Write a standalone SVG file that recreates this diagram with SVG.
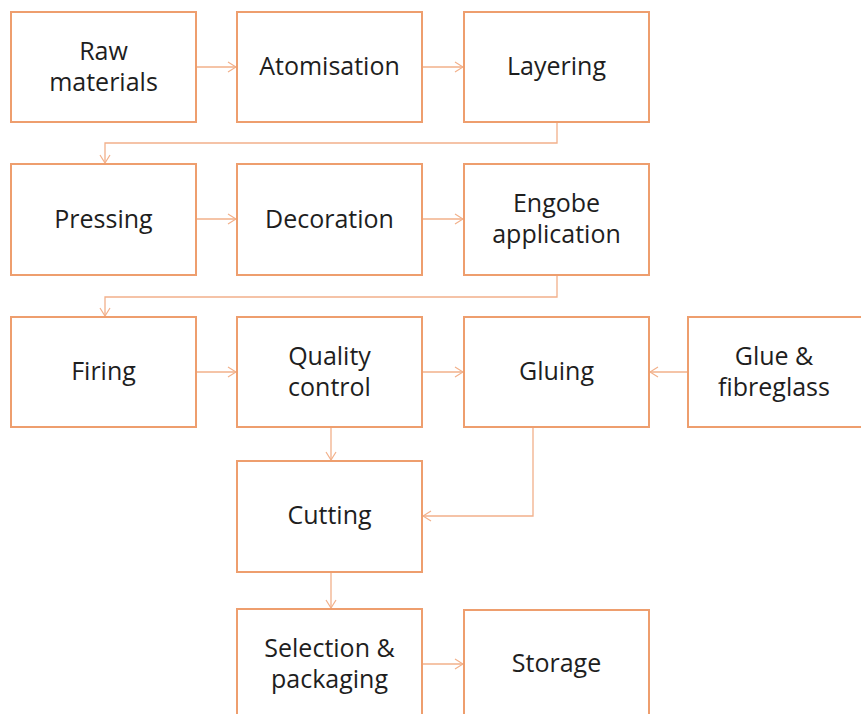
<svg xmlns="http://www.w3.org/2000/svg" width="861" height="714" viewBox="0 0 861 714">
<defs>
<marker id="ah" markerWidth="10" markerHeight="12" refX="9" refY="6" orient="auto" markerUnits="userSpaceOnUse">
<path d="M1,1 L9,6 L1,11" fill="none" stroke="#F2B08A" stroke-width="1.2"/>
</marker>
<style>
.box{fill:#fff;stroke:#EE9E6E;stroke-width:2}
.lbl{font-family:"Open Sans",Lato,sans-serif;font-size:25px;fill:#1e1e1e;text-anchor:middle}
.con{fill:none;stroke:#F2B08A;stroke-width:1.3;marker-end:url(#ah)}
</style>
</defs>
<rect width="861" height="714" fill="#fff"/>
<g id="connectors">
<path class="con" d="M196,67 H236"/>
<path class="con" d="M422,67 H463"/>
<path class="con" d="M557,122 V143 H105 V163"/>
<path class="con" d="M196,219 H236"/>
<path class="con" d="M422,219 H463"/>
<path class="con" d="M557,275 V297 H105 V316"/>
<path class="con" d="M196,372 H236"/>
<path class="con" d="M422,372 H463"/>
<path class="con" d="M688,372 H650"/>
<path class="con" d="M331,427 V460"/>
<path class="con" d="M533,427 V516 H423"/>
<path class="con" d="M331,572 V608"/>
<path class="con" d="M422,664 H463"/>
</g>
<g id="raw"><rect class="box" x="11" y="12" width="185" height="110"/><text class="lbl" x="103.5" y="60">Raw</text><text class="lbl" x="103.5" y="91">materials</text></g>
<g id="atomisation"><rect class="box" x="237" y="12" width="185" height="110"/><text class="lbl" x="329.5" y="75">Atomisation</text></g>
<g id="layering"><rect class="box" x="464" y="12" width="185" height="110"/><text class="lbl" x="556.5" y="75">Layering</text></g>
<g id="pressing"><rect class="box" x="11" y="164" width="185" height="111"/><text class="lbl" x="103.5" y="228">Pressing</text></g>
<g id="decoration"><rect class="box" x="237" y="164" width="185" height="111"/><text class="lbl" x="329.5" y="228">Decoration</text></g>
<g id="engobe"><rect class="box" x="464" y="164" width="185" height="111"/><text class="lbl" x="556.5" y="212">Engobe</text><text class="lbl" x="556.5" y="243">application</text></g>
<g id="firing"><rect class="box" x="11" y="317" width="185" height="110"/><text class="lbl" x="103.5" y="380">Firing</text></g>
<g id="quality"><rect class="box" x="237" y="317" width="185" height="110"/><text class="lbl" x="329.5" y="365">Quality</text><text class="lbl" x="329.5" y="396">control</text></g>
<g id="gluing"><rect class="box" x="464" y="317" width="185" height="110"/><text class="lbl" x="556.5" y="380">Gluing</text></g>
<g id="glue"><rect class="box" x="688" y="317" width="185" height="110"/><text class="lbl" x="774" y="365">Glue &amp;</text><text class="lbl" x="774" y="396">fibreglass</text></g>
<g id="cutting"><rect class="box" x="237" y="461" width="185" height="111"/><text class="lbl" x="329.5" y="524">Cutting</text></g>
<g id="selection"><rect class="box" x="237" y="609" width="185" height="115"/><text class="lbl" x="329.5" y="657">Selection &amp;</text><text class="lbl" x="329.5" y="688">packaging</text></g>
<g id="storage"><rect class="box" x="464" y="610" width="185" height="115"/><text class="lbl" x="556.5" y="672">Storage</text></g>
</svg>
